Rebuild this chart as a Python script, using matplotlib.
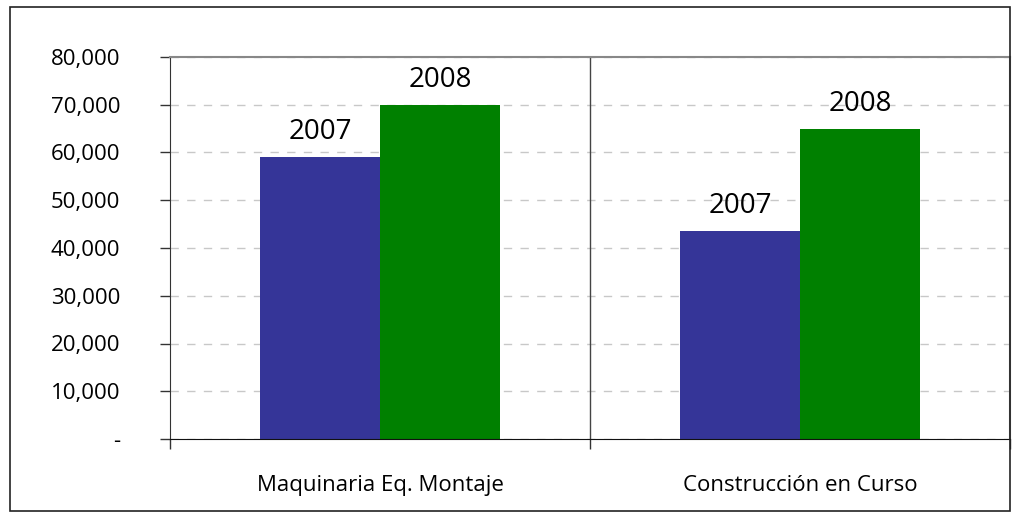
import numpy as np
import matplotlib.pyplot as plt
from matplotlib.patches import Rectangle
from matplotlib.ticker import FuncFormatter

categories = ["Maquinaria Eq. Montaje", "Construcción en Curso"]
years = ["2007", "2008"]
values_2007 = [59000, 43600]
values_2008 = [69900, 64900]

plt.rcParams['font.family'] = ['Open Sans', 'DejaVu Sans']

fig = plt.figure(figsize=(10.16, 5.17), dpi=100)
ax = fig.add_axes([170 / 1016, 1 - 439 / 517, 840 / 1016, 382 / 517])

x = np.arange(len(categories))
w = 120 / 420
b1 = ax.bar(x - w / 2, values_2007, w, color='#353598', zorder=3)
b2 = ax.bar(x + w / 2, values_2008, w, color='#008000', zorder=3)

# etiquetas de año sobre cada barra
for bars, lab in [(b1, years[0]), (b2, years[1])]:
    for r in bars:
        ax.annotate(lab, (r.get_x() + r.get_width() / 2, r.get_height()),
                    xytext=(0, 8), textcoords='offset points',
                    ha='center', va='bottom', fontsize=20, zorder=4)

ax.set_xlim(-0.5, 1.5)
ax.set_ylim(0, 80000)
ax.set_yticks(np.arange(0, 80001, 10000))
ax.yaxis.set_major_formatter(FuncFormatter(lambda v, p: '-' if v == 0 else f"{int(v):,}"))
ax.tick_params(axis='y', labelsize=16, length=7, width=1, color='#333333', pad=29)
ax.yaxis.grid(True, linestyle=(0, (6, 6)), color='#c8c8c8', linewidth=1, zorder=0)

ax.set_xticks([-0.5, 0.5, 1.5], minor=False)
ax.set_xticklabels([])
ax.set_xticks(x, minor=True)
ax.set_xticklabels(categories, minor=True, fontsize=16)
ax.tick_params(axis='x', which='major', length=7, width=1, color='#333333', direction='out')
ax.tick_params(axis='x', which='minor', length=0, pad=26)
ax.axvline(0.5, color='#444444', linewidth=1, zorder=2)

ax.spines['left'].set_color('#333333')
ax.spines['bottom'].set_color('#111111')
ax.spines['bottom'].set_zorder(5)
ax.spines['top'].set_color('#888888')
ax.spines['right'].set_color('#888888')
ax.spines['top'].set_linewidth(1.5)
ax.spines['right'].set_linewidth(1.5)

fig.patches.append(Rectangle((10 / 1016, 1 - 511 / 517), 1000 / 1016, 504 / 517,
                             transform=fig.transFigure, fill=False,
                             edgecolor='#222222', linewidth=1.2))

plt.savefig("out.png", dpi=100)
